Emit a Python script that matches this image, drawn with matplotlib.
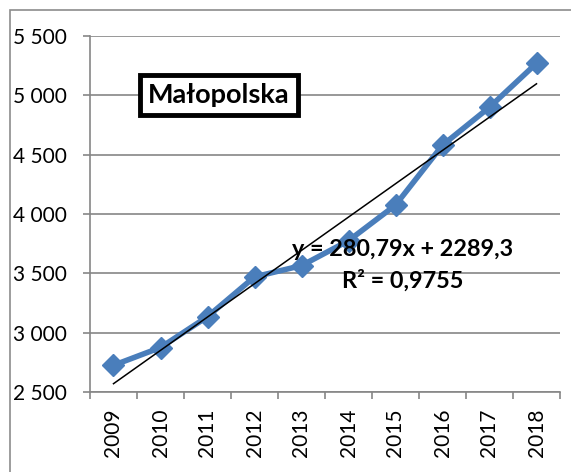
import numpy as np
import matplotlib.pyplot as plt
from matplotlib.patches import Rectangle
from matplotlib.ticker import FuncFormatter

years = ["2009", "2010", "2011", "2012", "2013", "2014", "2015", "2016", "2017", "2018"]
values = [2725, 2875, 3135, 3470, 3565, 3775, 4075, 4580, 4900, 5270]
slope = 280.79
intercept = 2289.3
r2 = 0.9755
region = "Małopolska"

plt.rcParams['font.family'] = ['Lato', 'DejaVu Sans']

fig = plt.figure(figsize=(5.71, 4.72), dpi=100)
ax = fig.add_axes([90/571, 1 - 392/472, 470/571, 356/472])

# outer chart frame
fig.patches.append(Rectangle((10/571, -0.1), 1.2, 1 - 10/472 + 0.1,
                             transform=fig.transFigure, fill=False,
                             edgecolor="#8c8c8c", lw=1.2))

x = np.arange(1, len(years) + 1)
ax.plot(x, values, color="#4a7ebb", lw=4, marker="D", markersize=11.5,
        zorder=3)
xt = np.array([1, len(years)])
ax.plot(xt, slope * xt + intercept, color="black", lw=1.1, zorder=4)

ax.set_xlim(0.5, len(years) + 0.5)
ax.set_ylim(2500, 5500)
ax.set_yticks(np.arange(2500, 5501, 500))
ax.yaxis.set_major_formatter(FuncFormatter(lambda v, p: f"{int(v):,}".replace(",", " ")))
ax.set_xticks(x)
ax.set_xticklabels(years, rotation=90)
ax.set_xticks(np.arange(0.5, len(years) + 1), minor=True)
ax.tick_params(axis="x", which="major", length=0, pad=12, labelsize=15)
ax.tick_params(axis="x", which="minor", length=5, color="#868686", width=1.2)
ax.tick_params(axis="y", length=5, color="#868686", width=1.2, pad=12,
               labelsize=15)

ax.grid(axis="y", color="#868686", lw=1.2)
ax.set_axisbelow(True)
for s in ["top", "right"]:
    ax.spines[s].set_visible(False)
for s in ["left", "bottom"]:
    ax.spines[s].set_color("#868686")
    ax.spines[s].set_linewidth(1.2)

fig.text(219/571, 1 - 95/472, region, fontsize=19.5, fontweight="bold",
         ha="center", va="center",
         bbox=dict(boxstyle="square,pad=0.3", fc="white", ec="black", lw=3.5))

fig.text(403/571, 1 - 249/472, f"y = {slope:.2f}x + {intercept:.1f}".replace(".", ","),
         fontsize=16.8, fontweight="bold", ha="center", va="center", zorder=5)
fig.text(403/571, 1 - 281/472, f"R² = {r2:.4f}".replace(".", ","),
         fontsize=16.8, fontweight="bold", ha="center", va="center", zorder=5)

fig.savefig("out.png", dpi=100)
